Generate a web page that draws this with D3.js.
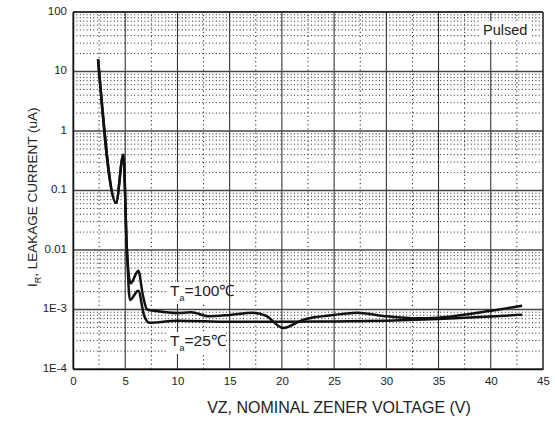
<!DOCTYPE html>
<html lang="en">
<head>
  <meta charset="UTF-8">
  <title>Leakage current vs nominal zener voltage</title>
  <script src="https://d3js.org/d3.v7.min.js"></script>
  <style>
    body { margin: 0; background: white; }
    svg { display: block; font-family: "Liberation Sans", Arial, sans-serif; }
  </style>
</head>
<body>
  <div id="chart"></div>
  <script>
    // values
    const xTicks = [0, 5, 10, 15, 20, 25, 30, 35, 40, 45];
    const yTicks = [1e-4, 1e-3, 0.01, 0.1, 1, 10, 100];
    const yTickLabels = ["1E-4", "1E-3", "0.01", "0.1", "1", "10", "100"];

    // Ta = 100 C
    const vz100 = [2.4, 4.12, 4.82, 5.15, 5.52, 6.25, 6.7, 7.1, 8, 10, 11.3, 13, 15, 17.2, 18.5, 20.1, 22, 25, 27.2, 29.7, 33, 35, 40, 43];
    const ir100 = [16, 0.062, 0.4, 0.011, 2.75e-3, 4.5e-3, 1.7e-3, 1.0e-3, 9.4e-4, 8.7e-4, 9.0e-4, 7.7e-4, 8.1e-4, 8.8e-4, 7.8e-4, 4.9e-4, 6.7e-4, 8.1e-4, 8.8e-4, 7.8e-4, 7.1e-4, 7.3e-4, 9.5e-4, 1.16e-3];

    // Ta = 25 C
    const vz25 = [2.4, 4.12, 4.82, 5.15, 5.45, 6.25, 6.8, 7.3, 10, 15, 20, 25, 30, 35, 40, 43];
    const ir25 = [16, 0.062, 0.4, 0.011, 1.45e-3, 2.07e-3, 8e-4, 6.0e-4, 6.5e-4, 6.2e-4, 6.2e-4, 6.3e-4, 6.5e-4, 6.9e-4, 7.6e-4, 8.2e-4];

    const width = 555, height = 423;
    const margin = { left: 73, right: 12, top: 12, bottom: 54 };

    const svg = d3.select("#chart").append("svg")
      .attr("width", width)
      .attr("height", height);

    const x = d3.scaleLinear().domain([0, 45]).range([margin.left, width - margin.right]);
    const y = d3.scaleLog().domain([1e-4, 100]).range([height - margin.bottom, margin.top]);

    const grid = svg.append("g");

    // minor horizontal dotted lines (2..9 in each decade)
    const minorY = [];
    for (let e = -4; e < 2; e++) {
      for (let m = 2; m <= 9; m++) minorY.push(m * Math.pow(10, e));
    }
    grid.selectAll(".minor-y").data(minorY).enter().append("line")
      .attr("x1", x(0)).attr("x2", x(45))
      .attr("y1", d => y(d)).attr("y2", d => y(d))
      .attr("stroke", "#222").attr("stroke-width", 1)
      .attr("stroke-dasharray", "1,2.4");

    // minor vertical dotted lines
    const minorX = d3.range(2.5, 45, 5);
    grid.selectAll(".minor-x").data(minorX).enter().append("line")
      .attr("x1", d => x(d)).attr("x2", d => x(d))
      .attr("y1", y(1e-4)).attr("y2", y(100))
      .attr("stroke", "#222").attr("stroke-width", 1)
      .attr("stroke-dasharray", "1.2,3");

    // major lines
    grid.selectAll(".major-x").data(xTicks).enter().append("line")
      .attr("x1", d => x(d)).attr("x2", d => x(d))
      .attr("y1", y(1e-4)).attr("y2", y(100))
      .attr("stroke", "#222").attr("stroke-width", 1);
    grid.selectAll(".major-y").data(yTicks).enter().append("line")
      .attr("x1", x(0)).attr("x2", x(45))
      .attr("y1", d => y(d)).attr("y2", d => y(d))
      .attr("stroke", "#444").attr("stroke-width", 1.5);

    // axes
    const xAxis = d3.axisBottom(x).tickValues(xTicks).tickSize(0).tickPadding(8);
    const yAxis = d3.axisLeft(y).tickValues(yTicks).tickSize(0).tickPadding(6)
      .tickFormat((d, i) => yTickLabels[i]);

    const gx = svg.append("g").attr("transform", `translate(0,${y(1e-4)})`).call(xAxis);
    const gy = svg.append("g").attr("transform", `translate(${x(0)},0)`).call(yAxis);
    [gx, gy].forEach(g => {
      g.select(".domain").attr("stroke", "#111").attr("stroke-width", 1.5);
      g.selectAll("text").attr("font-size", 11.5).attr("fill", "#222")
        .attr("font-family", "Liberation Sans, Arial, sans-serif");
    });
    gy.selectAll("text").attr("dy", "0.2em");

    // frame top / right
    svg.append("line").attr("x1", x(0)).attr("x2", x(45)).attr("y1", y(100)).attr("y2", y(100))
      .attr("stroke", "#222").attr("stroke-width", 1.5);
    svg.append("line").attr("x1", x(45)).attr("x2", x(45)).attr("y1", y(100)).attr("y2", y(1e-4))
      .attr("stroke", "#222").attr("stroke-width", 1);

    // curves
    const line = d3.line()
      .x(d => x(d[0]))
      .y(d => y(d[1]))
      .curve(d3.curveMonotoneX);

    const series = [
      d3.zip(vz100, ir100),
      d3.zip(vz25, ir25)
    ];
    svg.selectAll(".curve").data(series).enter().append("path")
      .attr("d", line)
      .attr("fill", "none")
      .attr("stroke", "#111")
      .attr("stroke-width", 2.5)
      .attr("stroke-linejoin", "round");

    // labels with white boxes
    function boxLabel(px, py, w, h) {
      svg.append("rect").attr("x", px).attr("y", py).attr("width", w).attr("height", h).attr("fill", "white");
    }

    boxLabel(481, 21, 50, 19);
    svg.append("text").attr("x", 483).attr("y", 35)
      .attr("font-size", 14.5).attr("fill", "#222").text("Pulsed");

    const labels = [
      { t: "=100℃", base: 296 },
      { t: "=25℃", base: 346 }
    ];
    labels.forEach(l => {
      boxLabel(167, l.base - 14, l.t.length > 5 ? 67 : 58, 22);
      const tx = svg.append("text").attr("x", 170).attr("y", l.base)
        .attr("font-size", 15.5).attr("fill", "#222");
      tx.append("tspan").text("T");
      tx.append("tspan").attr("font-size", 9).attr("dy", 5).text("a");
      tx.append("tspan").attr("dy", -5).text(l.t);
    });

    // axis titles
    svg.append("text")
      .attr("x", 339).attr("y", 413)
      .attr("text-anchor", "middle")
      .attr("font-size", 16).attr("fill", "#222")
      .text("VZ, NOMINAL ZENER VOLTAGE (V)");

    const yt = svg.append("text")
      .attr("transform", "translate(37,287) rotate(-90)")
      .attr("font-size", 13.5).attr("fill", "#222");
    yt.append("tspan").text("I");
    yt.append("tspan").attr("font-size", 9).attr("dy", 4).text("R");
    yt.append("tspan").attr("dy", -4).text(", LEAKAGE CURRENT (uA)");
  </script>
</body>
</html>
